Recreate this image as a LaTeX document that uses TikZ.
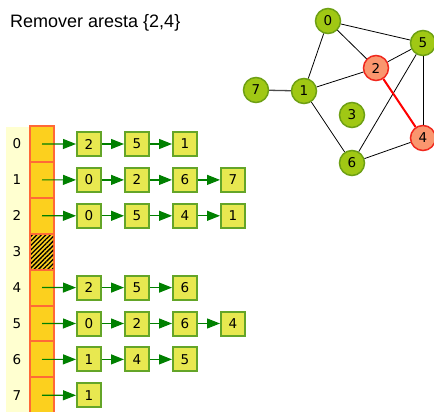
\documentclass[tikz,border=0pt]{standalone}
\usepackage{fontspec}
\setmainfont{DejaVu Sans}
\newfontfamily\titlefont{Liberation Sans}
\usetikzlibrary{arrows.meta,patterns.meta}

\definecolor{arrfill}{RGB}{252,208,30}
\definecolor{arrline}{RGB}{255,105,55}
\definecolor{idxband}{RGB}{255,255,208}
\definecolor{lfill}{RGB}{232,232,80}
\definecolor{lline}{RGB}{100,165,40}
\definecolor{ptr}{RGB}{0,128,0}
\definecolor{vfill}{RGB}{160,200,20}
\definecolor{vline}{RGB}{110,160,20}
\definecolor{rfill}{RGB}{250,150,110}
\definecolor{rline}{RGB}{240,40,30}

\tikzset{
  digits/.style={font=\fontsize{13.5}{13.5}\selectfont},
  cellbox/.style={draw=arrline, line width=2pt, fill=arrfill},
  listbox/.style={draw=lline, line width=2pt, fill=lfill, minimum size=24pt,
    inner sep=0pt, digits},
  ptrarrow/.style={draw=ptr, line width=1.2pt, -{Triangle[length=13pt,width=10pt]}},
  vtx/.style={circle, draw=vline, line width=1.5pt, fill=vfill, minimum size=25pt,
    inner sep=0pt, digits},
  vtxred/.style={vtx, draw=rline, fill=rfill},
  edge/.style={draw=black, line width=0.8pt},
}

\begin{document}
\begin{tikzpicture}[x=1pt, y=-1pt]
\useasboundingbox (0,0) rectangle (434,412);
\fill[white] (0,0) rectangle (434,412);

% title
\node[anchor=west, inner sep=0pt, font=\titlefont\fontsize{18}{18}\selectfont] (title) at (10,23) {Remover aresta \{2,4\}};

% index band
\fill[idxband] (6,127) rectangle (29,412);

% array cells
\foreach \i in {0,...,7} {
  \pgfmathsetmacro{\ytop}{126+35.9*\i}
  \pgfmathsetmacro{\ymid}{\ytop+17.95}
  \node[digits] (i\i) at (17,\ymid) {\i};
  \draw[cellbox] (30,\ytop) rectangle (54,\ytop+35.9);
  \coordinate (a\i) at (42,\ymid);
}
% empty slot for vertex 3
\fill[pattern={Lines[angle=45,distance=3.2pt,line width=1.3pt]}, pattern color=black]
  (31,235.5) rectangle (53,268.5);

% adjacency lists with their pointers
\foreach \i/\lst in {0/{2,5,1}, 1/{0,2,6,7}, 2/{0,5,4,1}, 4/{2,5,6},
                      5/{0,2,6,4}, 6/{1,4,5}, 7/{1}} {
  \pgfmathsetmacro{\ymid}{144+35.9*\i}
  \foreach \v [count=\k] in \lst {
    \node[listbox] (n\i-\k) at (89+48*\k-48,\ymid) {\v};
    \ifnum\k=1
      \draw[ptrarrow] (a\i) -- (n\i-1);
    \else
      \pgfmathtruncatemacro{\prev}{\k-1}
      \draw[ptrarrow] (n\i-\prev) -- (n\i-\k);
    \fi
  }
}

% graph
\node[vtx] (g0) at (328,21) {0};
\node[vtx] (g5) at (423,43) {5};
\node[vtxred] (g2) at (376,68) {2};
\node[vtx] (g7) at (256,90) {7};
\node[vtx] (g1) at (304,91) {1};
\node[vtx] (g3) at (352,115) {3};
\node[vtxred] (g4) at (423,138) {4};
\node[vtx] (g6) at (352,163) {6};

\draw[edge] (g0) -- (g1);
\draw[edge] (g0) -- (g2);
\draw[edge] (g0) -- (g5);
\draw[edge] (g1) -- (g2);
\draw[edge] (g1) -- (g6);
\draw[edge] (g2) -- (g5);
\draw[edge] (g5) -- (g6);
\draw[edge] (g5) -- (g4);
\draw[edge] (g6) -- (g4);
\draw[draw=black!70, line width=1.3pt] (g7) -- (g1);
\draw[draw=red, line width=2pt] (g2) -- (g4);
\end{tikzpicture}
\end{document}
